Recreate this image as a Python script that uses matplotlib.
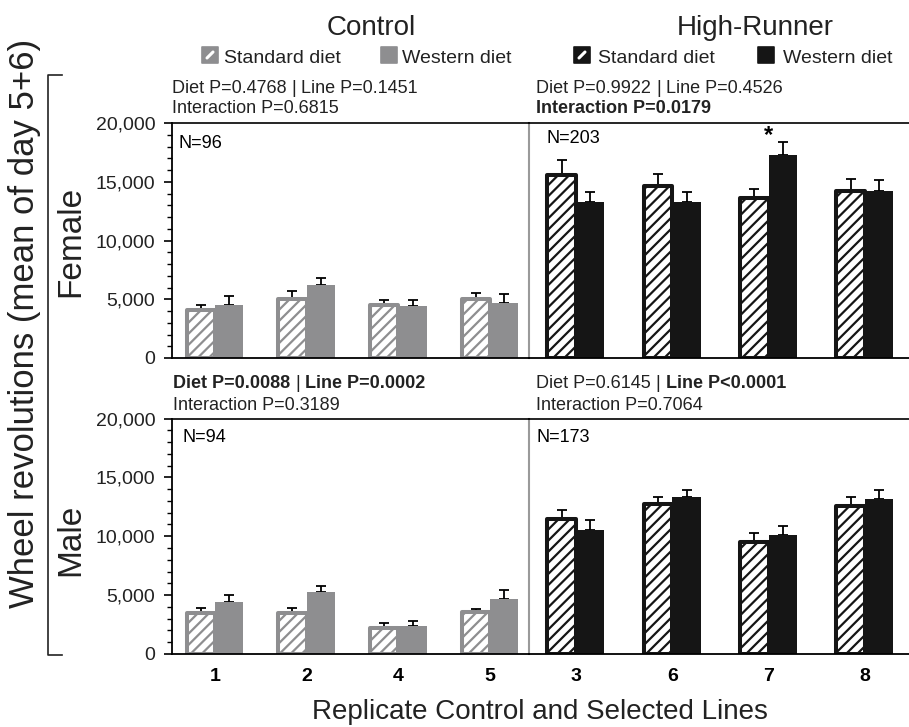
import matplotlib
matplotlib.use('Agg')
import matplotlib.pyplot as plt
from matplotlib.patches import Rectangle
from matplotlib.lines import Line2D
from matplotlib.ticker import MultipleLocator, FuncFormatter
import numpy as np

plt.rcParams['font.family'] = ['Liberation Sans', 'DejaVu Sans']
plt.rcParams['hatch.linewidth'] = 1.6

# ---------------- data ----------------
lines_ctrl = ['1', '2', '4', '5']
lines_hr = ['3', '6', '7', '8']

f_ctrl_std = [4050, 5000, 4550, 5000]
f_ctrl_std_se = [500, 700, 400, 550]
f_ctrl_wes = [4500, 6250, 4400, 4700]
f_ctrl_wes_se = [750, 600, 550, 750]

f_hr_std = [15600, 14600, 13650, 14250]
f_hr_std_se = [1250, 1100, 750, 950]
f_hr_wes = [13300, 13300, 17300, 14200]
f_hr_wes_se = [800, 800, 1050, 950]

m_ctrl_std = [3450, 3450, 2200, 3600]
m_ctrl_std_se = [450, 450, 450, 250]
m_ctrl_wes = [4400, 5300, 2350, 4650]
m_ctrl_wes_se = [600, 450, 450, 800]

m_hr_std = [11450, 12750, 9500, 12550]
m_hr_std_se = [800, 600, 750, 800]
m_hr_wes = [10550, 13300, 10100, 13200]
m_hr_wes_se = [800, 650, 750, 750]

n_labels = {'f_ctrl': 'N=96', 'f_hr': 'N=203', 'm_ctrl': 'N=94', 'm_hr': 'N=173'}

GRAY = '#8e8e90'
BLACK = '#151515'

W, H = 909, 727
fig = plt.figure(figsize=(W / 100, H / 100), dpi=100)


def fx(x):
    return x / W


def fy(y):
    return 1 - y / H


def add_axes(l, r, t, b):
    return fig.add_axes([fx(l), fy(b), fx(r) - fx(l), fy(t) - fy(b)])


def draw_bars(ax, std, std_se, wes, wes_se, color, w):
    x = np.arange(len(std))
    ax.bar(x - w / 2, std, w, facecolor='white', edgecolor=color, hatch='///',
           linewidth=2.9, joinstyle='round', zorder=2)
    ax.bar(x + w / 2, wes, w, color=color, linewidth=0, zorder=2)
    z = np.zeros(len(std))
    ax.errorbar(x - w / 2, std, yerr=[z, std_se], fmt='none', ecolor='black',
                elinewidth=1.3, capsize=3.5, capthick=1.3, zorder=1)
    ax.errorbar(x + w / 2, wes, yerr=[z, wes_se], fmt='none', ecolor='black',
                elinewidth=1.3, capsize=3.5, capthick=1.3, zorder=1)
    ax.set_ylim(0, 20000)


rows = [
    (123, 358, (f_ctrl_std, f_ctrl_std_se, f_ctrl_wes, f_ctrl_wes_se),
     (f_hr_std, f_hr_std_se, f_hr_wes, f_hr_wes_se), 'f'),
    (418.5, 654, (m_ctrl_std, m_ctrl_std_se, m_ctrl_wes, m_ctrl_wes_se),
     (m_hr_std, m_hr_std_se, m_hr_wes, m_hr_wes_se), 'm'),
]

axes = {}
for top, bot, cdat, hdat, key in rows:
    axc = add_axes(172, 529, top, bot)
    axh = add_axes(529, 909, top, bot)
    draw_bars(axc, *cdat, GRAY, 0.31)
    draw_bars(axh, *hdat, BLACK, 0.296)
    axc.set_xlim(-0.469, 3.425)
    axh.set_xlim(-0.488, 3.458)
    for a in (axc, axh):
        a.patch.set_alpha(0)
        a.spines['top'].set_linewidth(1.2)
        a.spines['bottom'].set_linewidth(1.3)
        a.tick_params(axis='x', length=0)
    axc.spines['left'].set_linewidth(1.3)
    axc.spines['right'].set_color('#9a9a9a')
    axc.spines['right'].set_linewidth(1.5)
    axh.spines['left'].set_visible(False)
    axh.spines['right'].set_visible(False)
    axh.set_yticks([])
    axc.yaxis.set_major_locator(MultipleLocator(5000))
    axc.yaxis.set_minor_locator(MultipleLocator(1000))
    axc.yaxis.set_major_formatter(FuncFormatter(lambda v, p: f'{int(v):,}'))
    axc.tick_params(axis='y', which='major', length=6, width=1.2, labelsize=14, pad=6,
                    labelcolor='#222222')
    axc.tick_params(axis='y', which='minor', length=3.5, width=1.0)
    axc.set_xticks(np.arange(4))
    axh.set_xticks(np.arange(4))
    if key == 'm':
        axc.set_xticklabels(lines_ctrl, fontsize=14, fontweight='bold')
        axh.set_xticklabels(lines_hr, fontsize=14, fontweight='bold')
        axc.tick_params(axis='x', pad=10)
        axh.tick_params(axis='x', pad=10)
    else:
        axc.set_xticklabels([])
        axh.set_xticklabels([])
    axes[key + '_ctrl'] = axc
    axes[key + '_hr'] = axh

# significance star
axes['f_hr'].text(2, 18900, '*', ha='center', va='center', fontsize=17, fontweight='bold')

# N labels
fig.text(fx(178), fy(148), n_labels['f_ctrl'], fontsize=13, va='baseline')
fig.text(fx(547), fy(143), n_labels['f_hr'], fontsize=13, va='baseline')
fig.text(fx(183), fy(442), n_labels['m_ctrl'], fontsize=13, va='baseline')
fig.text(fx(537), fy(442), n_labels['m_hr'], fontsize=13, va='baseline')

# titles
fig.text(fx(371), fy(35), 'Control', fontsize=20, ha='center', va='baseline', color='#222222')
fig.text(fx(755), fy(35), 'High-Runner', fontsize=20, ha='center', va='baseline', color='#222222')


# legend icons
def icon(x, y, color, slash):
    s = 16
    fig.add_artist(Rectangle((fx(x), fy(y + s)), s / W, s / H, transform=fig.transFigure,
                             facecolor=color, edgecolor=color, linewidth=1.2, joinstyle='round'))
    if slash:
        fig.add_artist(Line2D([fx(x + 5), fx(x + 11)], [fy(y + 11), fy(y + 5)],
                              transform=fig.transFigure, color='white', linewidth=2.2,
                              solid_capstyle='round'))


icon(202, 47, GRAY, True)
fig.text(fx(224), fy(63), 'Standard diet', fontsize=14, va='baseline', color='#222222')
icon(381, 47, GRAY, False)
fig.text(fx(402), fy(63), 'Western diet', fontsize=14, va='baseline', color='#222222')
icon(574, 47, BLACK, True)
fig.text(fx(598), fy(63), 'Standard diet', fontsize=14, va='baseline', color='#222222')
icon(758, 47, BLACK, False)
fig.text(fx(783), fy(63), 'Western diet', fontsize=14, va='baseline', color='#222222')

# stats text
ref_ax = axes['f_ctrl']


def rich(x, y, parts, size=13):
    t = fig.text(fx(x), fy(y), parts[0][0], fontsize=size, fontweight=parts[0][1],
                 va='baseline', ha='left', color='#222222')
    prev = t
    for s, wgt in parts[1:]:
        prev = ref_ax.annotate(s, xy=(1, 0), xycoords=prev, xytext=(3.6, 0),
                               textcoords='offset points', va='bottom', ha='left',
                               fontsize=size, fontweight=wgt, color='#222222',
                               annotation_clip=False)


rich(172, 93, [('Diet P=0.4768', 'normal'), ('|', 'normal'), ('Line P=0.1451', 'normal')])
rich(172, 113, [('Interaction P=0.6815', 'normal')])
rich(536, 93, [('Diet P=0.9922', 'normal'), ('|', 'normal'), ('Line P=0.4526', 'normal')])
rich(536, 113, [('Interaction P=0.0179', 'bold')])
rich(173, 388, [('Diet P=0.0088', 'bold'), ('|', 'normal'), ('Line P=0.0002', 'bold')])
rich(173, 410, [('Interaction P=0.3189', 'normal')])
rich(536, 388, [('Diet P=0.6145', 'normal'), ('|', 'normal'), ('Line P<0.0001', 'bold')])
rich(536, 410, [('Interaction P=0.7064', 'normal')])

# row labels and axis labels
fig.text(fx(71), fy(241), 'Female', fontsize=24, rotation=90, ha='center', va='center',
         color='#222222')
fig.text(fx(71), fy(540), 'Male', fontsize=24, rotation=90, ha='center', va='center',
         color='#222222')
fig.text(fx(25), fy(323), 'Wheel revolutions (mean of day 5+6)', fontsize=25, rotation=90,
         ha='center', va='center', color='#222222')
fig.text(fx(540), fy(712), 'Replicate Control and Selected Lines', fontsize=20,
         ha='center', va='center', color='#222222')

# bracket
fig.add_artist(Line2D([fx(62), fx(48), fx(48), fx(62)], [fy(75), fy(75), fy(655), fy(655)],
                      transform=fig.transFigure, color='#222222', linewidth=1.2))

fig.savefig('out.png', dpi=100)
